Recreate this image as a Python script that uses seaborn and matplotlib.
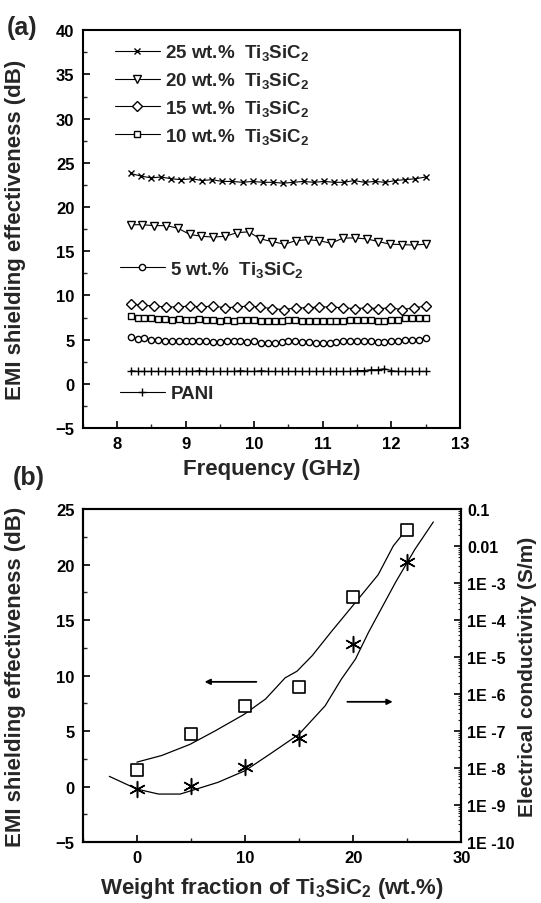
import numpy as np
import pandas as pd
import seaborn as sns
import matplotlib.pyplot as plt
from matplotlib.ticker import MultipleLocator, FixedLocator, FixedFormatter, LogLocator, NullFormatter

# ---- panel (a): EMI SE vs frequency ----
freq_44 = [8.2, 8.3, 8.4, 8.5, 8.6, 8.7, 8.8, 8.9, 9.0, 9.1, 9.2, 9.3, 9.4, 9.5, 9.6,
           9.7, 9.8, 9.9, 10.0, 10.1, 10.2, 10.3, 10.4, 10.5, 10.6, 10.7, 10.8, 10.9,
           11.0, 11.1, 11.2, 11.3, 11.4, 11.5, 11.6, 11.7, 11.8, 11.9, 12.0, 12.1, 12.2,
           12.3, 12.4, 12.5]
freq_30 = [8.20, 8.35, 8.50, 8.64, 8.79, 8.94, 9.09, 9.24, 9.39, 9.53, 9.68, 9.83, 9.98,
           10.13, 10.28, 10.42, 10.57, 10.72, 10.87, 11.02, 11.17, 11.31, 11.46, 11.61,
           11.76, 11.91, 12.06, 12.20, 12.35, 12.50]
freq_26 = [8.20, 8.37, 8.54, 8.72, 8.89, 9.06, 9.23, 9.40, 9.58, 9.75, 9.92, 10.09, 10.26,
           10.44, 10.61, 10.78, 10.95, 11.12, 11.30, 11.47, 11.64, 11.81, 11.98, 12.16,
           12.33, 12.50]

se_25 = [23.8, 23.5, 23.3, 23.4, 23.2, 23.1, 23.2, 23.0, 23.1, 22.9, 22.9, 22.8, 22.9, 22.8,
         22.8, 22.7, 22.8, 22.9, 22.8, 22.9, 22.8, 22.8, 23.0, 22.8, 22.9, 22.8, 23.0, 23.1,
         23.2, 23.4]
se_20 = [18.0, 18.0, 17.9, 17.9, 17.6, 16.9, 16.7, 16.6, 16.7, 17.1, 17.2, 16.4, 16.1, 15.8,
         16.2, 16.3, 16.2, 15.9, 16.5, 16.5, 16.4, 16.1, 15.8, 15.75, 15.7, 15.8]
se_15 = [9.0, 8.9, 8.8, 8.7, 8.7, 8.8, 8.7, 8.8, 8.6, 8.7, 8.8, 8.7, 8.5, 8.4, 8.6, 8.6, 8.7,
         8.7, 8.6, 8.5, 8.6, 8.5, 8.6, 8.4, 8.6, 8.8]
se_10 = [7.7, 7.5, 7.4, 7.4, 7.3, 7.3, 7.2, 7.3, 7.2, 7.2, 7.3, 7.2, 7.2, 7.1, 7.2, 7.1, 7.2,
         7.2, 7.2, 7.1, 7.1, 7.1, 7.1, 7.2, 7.2, 7.1, 7.1, 7.1, 7.1, 7.1, 7.1, 7.1, 7.2, 7.2,
         7.2, 7.2, 7.1, 7.1, 7.2, 7.2, 7.4, 7.4, 7.5, 7.5]
se_5 = [5.3, 5.1, 5.2, 5.0, 5.0, 4.9, 4.9, 4.8, 4.9, 4.8, 4.9, 4.8, 4.7, 4.7, 4.8, 4.8, 4.8,
        4.7, 4.8, 4.6, 4.6, 4.6, 4.7, 4.8, 4.8, 4.7, 4.7, 4.6, 4.6, 4.6, 4.7, 4.8, 4.9, 4.9,
        4.8, 4.8, 4.7, 4.7, 4.8, 4.9, 5.0, 5.0, 5.0, 5.2]
se_pani = [1.5, 1.4, 1.4, 1.4, 1.4, 1.4, 1.4, 1.4, 1.4, 1.4, 1.5, 1.4, 1.4, 1.4, 1.4, 1.4,
           1.5, 1.4, 1.4, 1.5, 1.4, 1.4, 1.4, 1.4, 1.4, 1.4, 1.4, 1.4, 1.4, 1.4, 1.4, 1.4,
           1.4, 1.5, 1.5, 1.6, 1.6, 1.7, 1.5, 1.4, 1.4, 1.4, 1.4, 1.4]

# ---- panel (b): SE and conductivity vs Ti3SiC2 content ----
wt = [0, 5, 10, 15, 20, 25]
se_wt = [1.5, 4.7, 7.3, 9.0, 17.1, 23.1]
cond = [2.7e-9, 3.3e-9, 1.04e-8, 6.7e-8, 2.25e-5, 3.8e-3]

fit_se_x = [0, 2.3, 4.9, 7.2, 9.9, 11.9, 13.7, 14.8, 16.2, 18.0, 20.2, 22.3, 23.7, 24.6]
fit_se_y = [2.2, 2.8, 3.8, 5.0, 6.5, 7.9, 9.8, 10.4, 11.8, 14.0, 16.6, 19.1, 21.7, 22.8]
fit_cond_x = [-2.55, 0, 2.0, 4.0, 5.0, 7.5, 10.0, 12.3, 15.0, 17.4, 18.9, 20.2, 21.4, 23.9,
              25.7, 27.4]
fit_cond_y = [5.97e-9, 2.70e-9, 1.98e-9, 1.98e-9, 2.43e-9, 4.11e-9, 8.49e-9, 2.39e-8,
              8.30e-8, 4.83e-7, 2.54e-6, 8.85e-6, 4.65e-5, 1.05e-3, 8.3e-3, 4.55e-2]

sns.set_theme(style='ticks')
plt.rcParams['font.family'] = ['Liberation Sans', 'DejaVu Sans']
plt.rcParams['font.weight'] = 'bold'
plt.rcParams['axes.labelweight'] = 'bold'
plt.rcParams['mathtext.fontset'] = 'custom'
plt.rcParams['mathtext.rm'] = 'Liberation Sans:bold'
plt.rcParams['mathtext.default'] = 'rm'

fig = plt.figure(figsize=(5.41, 9.04), dpi=100)
ax_a = fig.add_axes([0.153, 0.5254, 0.697, 0.440])
ax_b = fig.add_axes([0.153, 0.0675, 0.700, 0.368])

series = [
    (freq_30, se_25, 'x', 4.5, '25 wt.%  Ti$_3$SiC$_2$'),
    (freq_26, se_20, 'v', 5.5, '20 wt.%  Ti$_3$SiC$_2$'),
    (freq_26, se_15, 'D', 5.0, '15 wt.%  Ti$_3$SiC$_2$'),
    (freq_44, se_10, 's', 4.5, '10 wt.%  Ti$_3$SiC$_2$'),
    (freq_44, se_5, 'o', 4.5, '5 wt.%  Ti$_3$SiC$_2$'),
    (freq_44, se_pani, '+', 5.5, 'PANI'),
]
for fx, fy, mk, ms, lab in series:
    sns.lineplot(x=fx, y=fy, ax=ax_a, color='black', lw=0.8, marker=mk, markersize=ms,
                 markerfacecolor='white', markeredgecolor='black', markeredgewidth=1.0,
                 label=lab)
if ax_a.get_legend() is not None:
    ax_a.get_legend().remove()

handles, labels = ax_a.get_legend_handles_labels()
leg_kw = dict(frameon=False, fontsize=13.5, handlelength=2.4, handletextpad=0.3,
              borderpad=0, borderaxespad=0, labelspacing=0.42, loc='upper left')
leg1 = ax_a.legend(handles[:4], labels[:4], bbox_to_anchor=(0.085, 0.97), **leg_kw)
ax_a.add_artist(leg1)
leg2 = ax_a.legend(handles[4:5], labels[4:5], bbox_to_anchor=(0.098, 0.425), **leg_kw)
ax_a.add_artist(leg2)
ax_a.legend(handles[5:], labels[5:], bbox_to_anchor=(0.098, 0.108), **leg_kw)

ax_a.set_xlim(7.5, 13)
ax_a.set_ylim(-5, 40)
ax_a.xaxis.set_major_locator(FixedLocator([8, 9, 10, 11, 12, 13]))
ax_a.xaxis.set_minor_locator(MultipleLocator(0.5))
ax_a.yaxis.set_major_locator(MultipleLocator(5))
ax_a.yaxis.set_minor_locator(MultipleLocator(2.5))
ax_a.set_xlabel('Frequency (GHz)', fontsize=16)
ax_a.set_ylabel('EMI shielding effectiveness (dB)', fontsize=16)
ax_a.xaxis.set_label_coords(0.5, -0.075)
ax_a.yaxis.set_label_coords(-0.151, 0.5)

# panel (b)
sns.lineplot(x=fit_se_x, y=fit_se_y, ax=ax_b, color='black', lw=0.9, sort=False)
sns.scatterplot(x=wt, y=se_wt, ax=ax_b, marker='s', s=75, color='white',
                edgecolor='black', linewidth=1.2, zorder=3)
ax_b.set_xlim(-5, 30)
ax_b.set_ylim(-5, 25)
ax_b.xaxis.set_major_locator(MultipleLocator(10))
ax_b.xaxis.set_minor_locator(MultipleLocator(5))
ax_b.yaxis.set_major_locator(MultipleLocator(5))
ax_b.yaxis.set_minor_locator(MultipleLocator(2.5))
ax_b.set_xlabel('Weight fraction of Ti$_3$SiC$_2$ (wt.%)', fontsize=16)
ax_b.set_ylabel('EMI shielding effectiveness (dB)', fontsize=16)
ax_b.xaxis.set_label_coords(0.5, -0.1)
ax_b.yaxis.set_label_coords(-0.151, 0.5)

ax_c = ax_b.twinx()
sns.lineplot(x=fit_cond_x, y=fit_cond_y, ax=ax_c, color='black', lw=0.9, sort=False)
sns.scatterplot(x=wt, y=cond, ax=ax_c, marker=(6, 2, 0), s=130, color='black',
                edgecolor='black', linewidth=1.1, zorder=3)
ax_c.set_yscale('log')
ax_c.set_ylim(1e-10, 1e-1)
exps = list(range(-10, 0))
ax_c.yaxis.set_major_locator(FixedLocator([10.0 ** e for e in exps]))
ax_c.yaxis.set_major_formatter(FixedFormatter(
    ['1E -%d' % (-e) for e in exps[:-2]] + ['0.01', '0.1']))
ax_c.yaxis.set_minor_locator(LogLocator(base=10, subs=np.arange(2, 10), numticks=20))
ax_c.yaxis.set_minor_formatter(NullFormatter())
ax_c.set_ylabel('Electrical conductivity (S/m)', fontsize=15)
ax_c.yaxis.set_label_coords(1.15, 0.5)

ax_b.annotate('', xy=(6.0, 9.44), xytext=(11.3, 9.44),
              arrowprops=dict(arrowstyle='-|>', color='black', lw=1.3, mutation_scale=8))
ax_b.annotate('', xy=(23.9, 7.64), xytext=(19.2, 7.64),
              arrowprops=dict(arrowstyle='-|>', color='black', lw=1.3, mutation_scale=8))

for ax in (ax_a, ax_b, ax_c):
    for sp in ax.spines.values():
        sp.set_linewidth(1.5)
        sp.set_color('black')
    ax.tick_params(which='major', direction='in', length=5, width=1.2, labelsize=12, pad=6,
                   colors='black')
    ax.tick_params(which='minor', direction='in', length=3, width=1.0)
ax_c.tick_params(which='major', labelsize=11.5, pad=4)
ax_c.tick_params(which='minor', length=2, width=0.8)
ax_b.tick_params(axis='y', which='both', right=False)

fig.text(0.041, 0.969, '(a)', fontsize=18, fontweight='bold', ha='center', va='center')
fig.text(0.054, 0.471, '(b)', fontsize=18, fontweight='bold', ha='center', va='center')

fig.savefig('out.png', dpi=100)
